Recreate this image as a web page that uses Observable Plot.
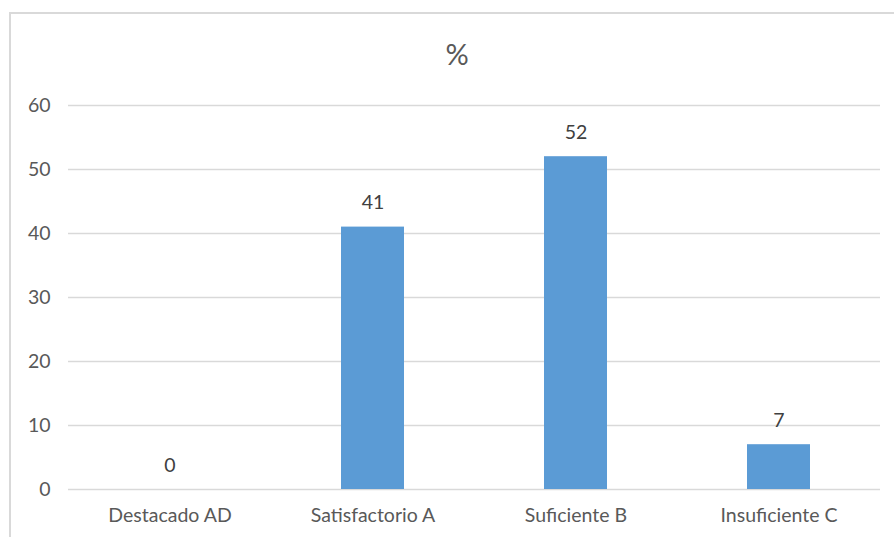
<!DOCTYPE html>
<html>
<head>
<meta charset="utf-8">
<script src="https://cdn.jsdelivr.net/npm/d3@7"></script>
<script src="https://cdn.jsdelivr.net/npm/@observablehq/plot@0.6"></script>
<style>
  html, body { margin: 0; padding: 0; background: #fff; }
  #wrap { position: relative; width: 894px; height: 537px; overflow: hidden; background: #fff; }
  #frame { position: absolute; left: 9px; top: 12px; width: 900px; height: 600px;
           border-left: 2px solid #d9d9d9; border-top: 2px solid #d9d9d9; box-sizing: border-box; }
  #title { position: absolute; left: 0; width: 914px; top: 36px; text-align: center;
           font-family: Lato, sans-serif; font-size: 29px; color: #595959; }
  #chart { position: absolute; left: 0; top: 0; }
</style>
</head>
<body>
<div id="wrap">
  <div id="frame"></div>
  <div id="chart"></div>
  <div id="title">%</div>
</div>
<script>
const categories = ["Destacado AD", "Satisfactorio A", "Suficiente B", "Insuficiente C"];
const values = [0, 41, 52, 7];
const yTicks = [0, 10, 20, 30, 40, 50, 60];

const data = categories.map((c, i) => ({ category: c, value: values[i] }));

const chart = Plot.plot({
  width: 894,
  height: 537,
  marginLeft: 68,
  marginRight: 14,
  marginTop: 105,
  marginBottom: 48,
  style: { fontFamily: "Lato, sans-serif", fontSize: "19px", color: "#595959", background: "transparent" },
  x: { domain: categories, paddingInner: 0.69, paddingOuter: 0.345, label: null },
  y: { domain: [0, 60], ticks: yTicks, label: null },
  marks: [
    Plot.gridY(yTicks, { stroke: "#d9d9d9", strokeOpacity: 1, strokeWidth: 1.3 }),
    Plot.barY(data, { x: "category", y: "value", fill: "#5b9bd5" }),
    Plot.text(data, { x: "category", y: "value", text: d => String(d.value), dy: -24, fill: "#404040", fontSize: 19.5 }),
    Plot.axisY({ ticks: yTicks, tickSize: 0, tickPadding: 18, fill: "#595959", fontSize: 19.5, label: null }),
    Plot.axisX({ tickSize: 0, tickPadding: 19, fill: "#595959", fontSize: 19.5, label: null })
  ]
});
document.getElementById("chart").appendChild(chart);
</script>
</body>
</html>
